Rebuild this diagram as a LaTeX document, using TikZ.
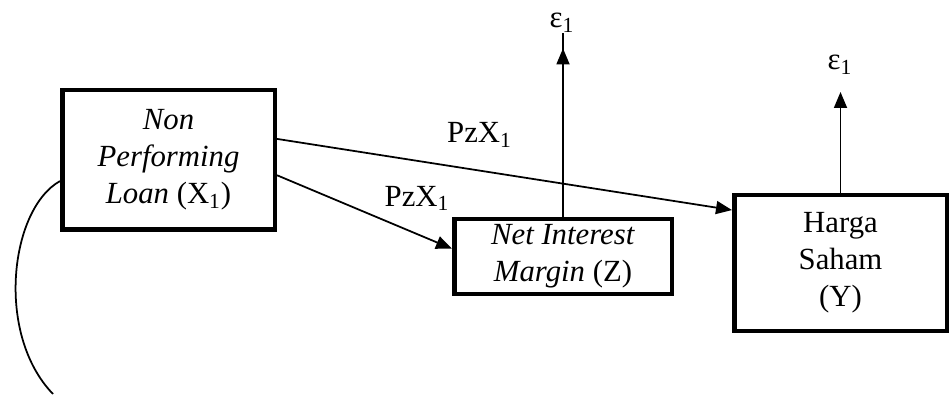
\documentclass[tikz,border=0pt]{standalone}
\usepackage{fontspec}
\setmainfont{Liberation Serif}
\usetikzlibrary{arrows.meta}

\begin{document}
\begin{tikzpicture}[>={Triangle[length=0.32cm,width=0.26cm]}, line width=1pt, font=\fontsize{17.5pt}{21pt}\selectfont,
	kotak/.style={draw, line width=0.09cm, line join=miter, align=center, inner sep=0pt},
	teks/.style={inner sep=0pt}]
	\useasboundingbox (0,0) rectangle (19,7.88);
	% Variabel
	\node[kotak, minimum width=4.25cm, minimum height=2.79cm] (x1) at (3.37,4.68) {\textit{Non}\\\textit{Performing}\\\textit{Loan} (X\textsubscript{1})};
	\node[kotak, minimum width=4.35cm, minimum height=1.49cm] (z) at (11.26,2.75) {\textit{Net Interest}\\\textit{Margin} (Z)};
	\node[kotak, minimum width=4.25cm, minimum height=2.71cm] (y) at (16.81,2.62) {Harga\\Saham\\(Y)};
	% Error
	\node[teks] (e1) at (11.24,7.42) {ε\textsubscript{1}};
	\node[teks] (e2) at (16.8,6.58) {ε\textsubscript{1}};
	% Jalur
	\draw[->] (x1.11.5) -- (y.154.7) node[teks, pos=0.445, above=0.45cm] (p1) {PzX\textsubscript{1}};
	\draw[->] (x1.-8.9) -- (z.176) node[teks, pos=0.8, above=0.45cm] (p2) {PzX\textsubscript{1}};
	\draw[->] (z.north) -- (z.north |- e1.south) ++(0,-0.3);
	\draw[->] (y.north) -- ++(0,2.02);
	% Lengkung
	\coordinate (ujung) at (1.06,0);
	\draw (x1.191.5) .. controls (0.2,3.7) and (-0.1,1.2) .. (ujung);
\end{tikzpicture}
\end{document}
